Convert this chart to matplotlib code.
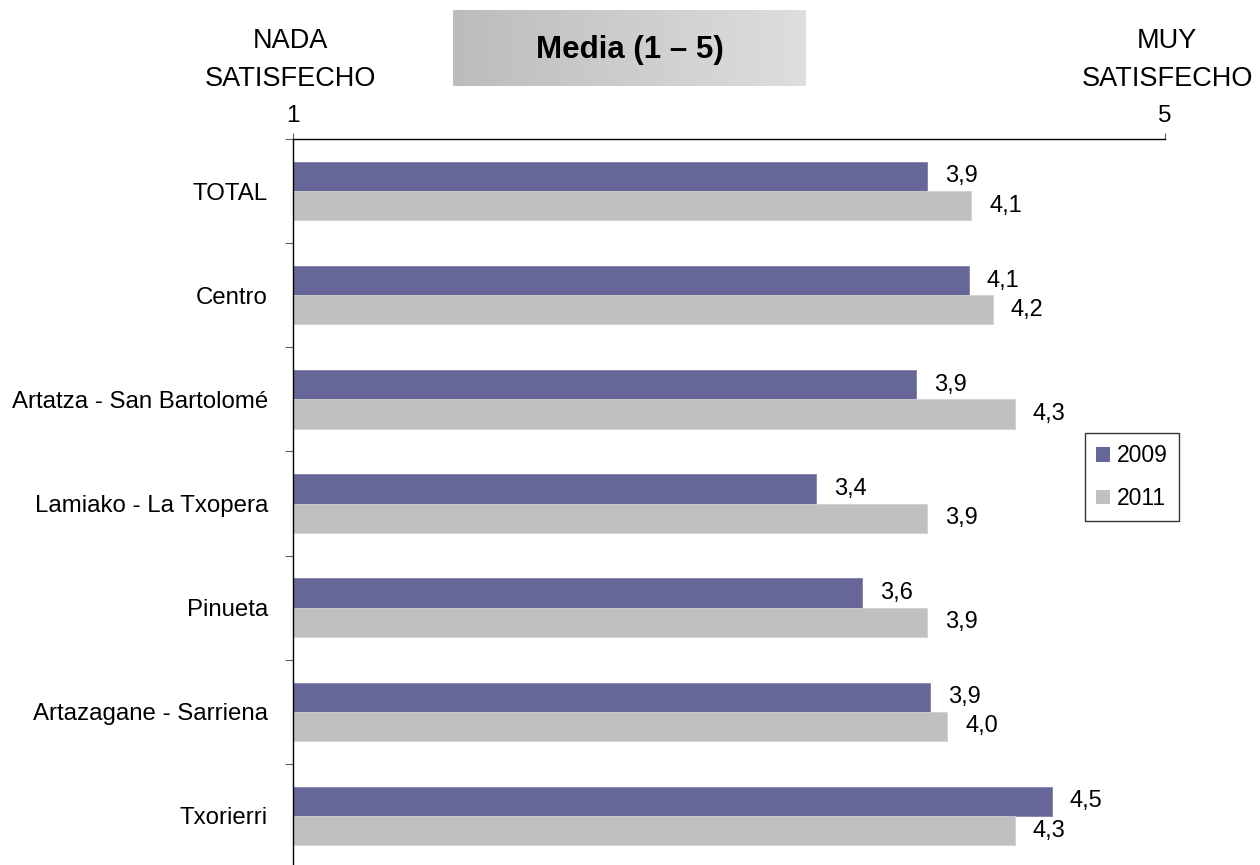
import matplotlib
matplotlib.use("Agg")
import matplotlib.pyplot as plt
import numpy as np
from matplotlib.colors import LinearSegmentedColormap

plt.rcParams['font.family'] = ['Liberation Sans', 'DejaVu Sans']

categories = ["TOTAL", "Centro", "Artatza - San Bartolomé", "Lamiako - La Txopera",
              "Pinueta", "Artazagane - Sarriena", "Txorierri"]
values_2009 = [3.91, 4.10, 3.86, 3.40, 3.61, 3.92, 4.48]
values_2011 = [4.11, 4.21, 4.31, 3.91, 3.91, 4.00, 4.31]
series_names = ["2009", "2011"]
x_ticks = [1, 5]
x_ticklabels = ["1", "5"]
title_text = "Media (1 – 5)"
left_text = "NADA\nSATISFECHO"
right_text = "MUY\nSATISFECHO"

W, H = 1260, 865
fig = plt.figure(figsize=(W / 100, H / 100), dpi=100)

def fx(px):
    return px / W

def fy(py):
    return 1 - py / H

ax_left, ax_right, ax_top, ax_bot = 293, 1165, 139, 868
ax = fig.add_axes([fx(ax_left), fy(ax_bot), fx(ax_right - ax_left), (ax_bot - ax_top) / H])

y = np.arange(len(categories))
bh = 0.28
c2009 = "#666699"
c2011 = "#C0C0C0"
b1 = ax.barh(y - bh / 2, np.array(values_2009) - 1, left=1, height=bh, color=c2009,
             edgecolor="#8080aa", linewidth=0.6, label=series_names[0])
b2 = ax.barh(y + bh / 2, np.array(values_2011) - 1, left=1, height=bh, color=c2011,
             edgecolor="#d0d0d0", linewidth=0.6, label=series_names[1])

fmt = lambda v: f"{v:.1f}".replace(".", ",")
ax.bar_label(b1, labels=[fmt(v) for v in values_2009], padding=13, fontsize=17)
ax.bar_label(b2, labels=[fmt(v) for v in values_2011], padding=13, fontsize=17)

ax.set_xlim(1, 5)
ax.set_ylim(len(categories) - 0.5, -0.5)

for s in ["right", "bottom"]:
    ax.spines[s].set_visible(False)
ax.spines["top"].set_linewidth(1.0)
ax.spines["left"].set_linewidth(1.0)

ax.xaxis.tick_top()
ax.set_xticks(x_ticks)
ax.set_xticklabels(x_ticklabels, fontsize=17.5)
ax.tick_params(axis="x", direction="out", length=4, width=0.8, colors="#606060",
               labelcolor="black", pad=5)

ax.set_yticks(np.arange(-0.5, len(categories) - 0.4, 1.0))
ax.set_yticklabels([])
ax.set_yticks(y, minor=True)
ax.set_yticklabels(categories, minor=True, fontsize=17.3)
ax.tick_params(axis="y", which="major", direction="out", length=6, width=0.8, colors="#606060")
ax.tick_params(axis="y", which="minor", length=0, pad=18, labelcolor="black")

leg = fig.legend(handles=[b1, b2], labels=series_names, loc="upper left",
                 bbox_to_anchor=(fx(1085), fy(433)), fontsize=16.5, frameon=True,
                 fancybox=False, edgecolor="black", handlelength=0.6, handleheight=0.6,
                 handletextpad=0.3, labelspacing=0.85, borderpad=0.5, borderaxespad=0)
leg.get_frame().set_linewidth(1.0)
for h in leg.legend_handles:
    h.set_linewidth(0)

tax = fig.add_axes([fx(453), fy(86), fx(806 - 453), (86 - 10) / H])
cmap = LinearSegmentedColormap.from_list("g", ["#bcbcbc", "#dedede"])
tax.imshow(np.linspace(0, 1, 256).reshape(1, -1), aspect="auto", cmap=cmap,
           extent=[0, 1, 0, 1])
tax.set_xlim(0, 1)
tax.set_ylim(0, 1)
tax.axis("off")
tax.text(0.5, 0.47, title_text, ha="center", va="center", fontsize=22.5, fontweight="bold")

fig.text(fx(290), fy(60), left_text, ha="center", va="center", fontsize=19.5, linespacing=1.55)
fig.text(fx(1167), fy(60), right_text, ha="center", va="center", fontsize=19.5, linespacing=1.55)

fig.savefig("out.png", dpi=100)
